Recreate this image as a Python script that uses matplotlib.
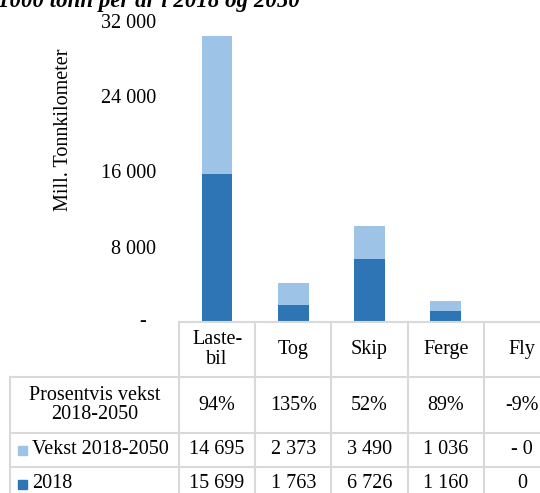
import matplotlib
matplotlib.use('Agg')
import matplotlib.pyplot as plt
from matplotlib.patches import Rectangle

plt.rcParams['font.family'] = ['Liberation Serif', 'DejaVu Serif']

# Data
categories = ['Laste-\nbil', 'Tog', 'Skip', 'Ferge', 'Fly']
base_2018 = [15699, 1763, 6726, 1160, 0]
growth = [14695, 2373, 3490, 1036, -0.03]
pct_growth = [94, 135, 52, 89, -9]
yticks = [8000, 16000, 24000, 32000]

dark = '#2E75B6'
light = '#9DC3E6'
grid = '#D9D9D9'

W, H = 540, 493
fig = plt.figure(figsize=(W / 100, H / 100), dpi=100)

# table geometry in pixels (from top-left)
x0 = 179
col_w = 76.2
ncol = len(categories)
x_end = x0 + col_w * ncol
label_left = 10
row_y = [322, 377, 433, 467, 505]

fs = 14.5

# bar axes
ax = fig.add_axes([x0 / W, (H - 322) / H, (x_end - x0) / W, (322 - 21) / H])
xs = range(ncol)
ax.bar(xs, base_2018, width=0.4, color=dark)
ax.bar(xs, growth, width=0.4, bottom=base_2018, color=light)
ax.set_xlim(-0.5, ncol - 0.5)
ax.set_ylim(0, 32000)
ax.set_yticks(yticks)
ax.set_yticklabels([f'{t:,}'.replace(',', ' ') for t in yticks], fontsize=fs)
ax.tick_params(axis='y', length=0, pad=(x0 - 156) * 0.72)
ax.set_xticks([])
for s in ax.spines.values():
    s.set_visible(False)
ax.patch.set_alpha(0)

# pixel overlay for table and loose text
ov = fig.add_axes([0, 0, 1, 1])
ov.set_xlim(0, W)
ov.set_ylim(H, 0)
ov.axis('off')
ov.patch.set_alpha(0)

ov.text(143, 321, '-', ha='center', va='center', fontsize=fs)
ov.text(64, 130, 'Mill. Tonnkilometer', rotation=90, ha='center', va='center',
        fontsize=fs)
ov.text(300, 7, '1000 tonn per år i 2018 og 2050', ha='right', va='baseline',
        fontsize=16.5, fontweight='bold', fontstyle='italic')

lw = 1.5
# horizontal lines
ov.plot([x0, x_end], [row_y[0], row_y[0]], color=grid, lw=lw)
for y in row_y[1:4]:
    ov.plot([label_left, x_end], [y, y], color=grid, lw=lw)
# vertical lines
ov.plot([label_left, label_left], [row_y[1], row_y[4]], color=grid, lw=lw)
for i in range(ncol + 1):
    x = x0 + col_w * i
    ov.plot([x, x], [row_y[0], row_y[4]], color=grid, lw=lw)


def fmt(v):
    s = f'{abs(round(v)):,}'.replace(',', ' ')
    return '- ' + s if v < 0 else s


for i in range(ncol):
    cx = x0 + col_w * (i + 0.5)
    ov.text(cx, (row_y[0] + row_y[1]) / 2, categories[i], ha='center',
            va='center', fontsize=fs, linespacing=1.0)
    ov.text(cx, (row_y[1] + row_y[2]) / 2, f'{pct_growth[i]}%', ha='center',
            va='center', fontsize=fs)
    ov.text(cx, (row_y[2] + row_y[3]) / 2, fmt(growth[i]), ha='center',
            va='center', fontsize=fs)
    ov.text(cx, (row_y[3] + row_y[4]) / 2 - 2, fmt(base_2018[i]), ha='center',
            va='center', fontsize=fs)

ov.text((label_left + x0) / 2, (row_y[1] + row_y[2]) / 2,
        'Prosentvis vekst\n2018-2050', ha='center', va='center', fontsize=fs,
        linespacing=1.0)
for y, lab, c in [((row_y[2] + row_y[3]) / 2, 'Vekst 2018-2050', light),
                  ((row_y[3] + row_y[4]) / 2 - 2, '2018', dark)]:
    ov.add_patch(Rectangle((18, y - 4), 9, 9, color=c))
    ov.text(32, y, lab, ha='left', va='center', fontsize=fs)

fig.savefig('out.png', dpi=100)
